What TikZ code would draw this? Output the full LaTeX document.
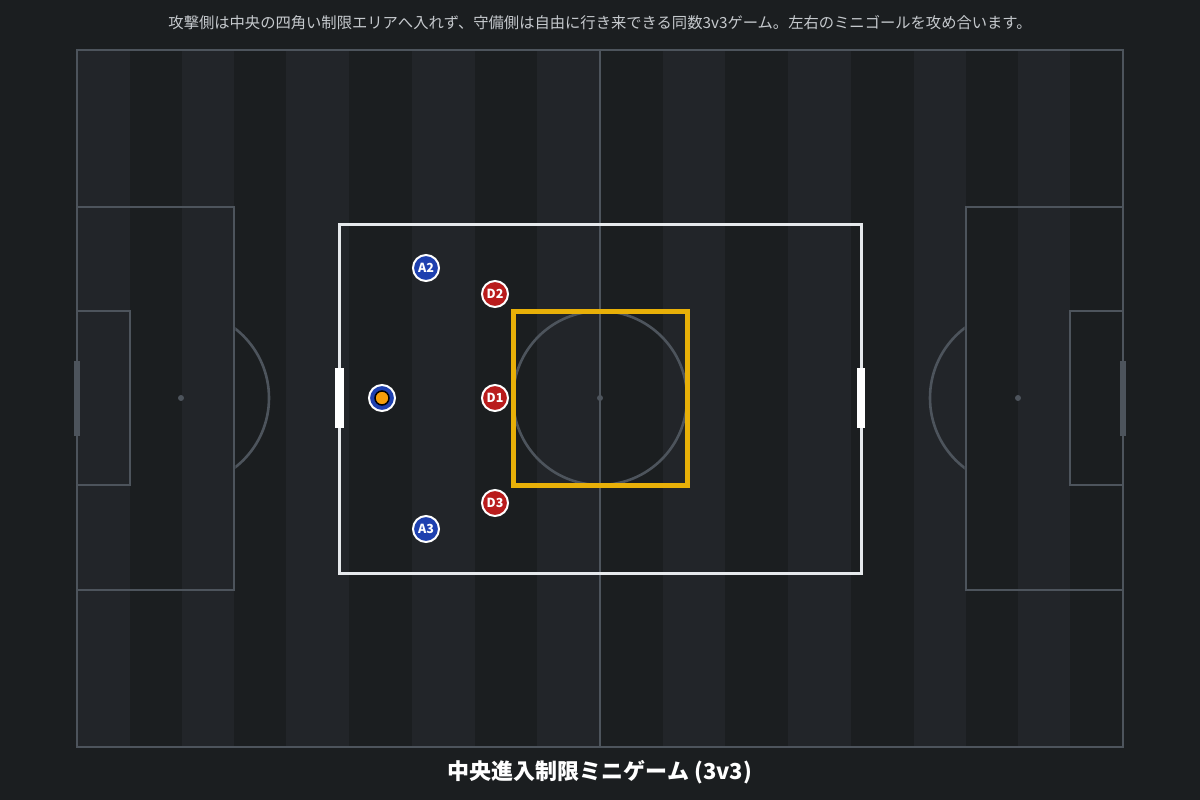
\documentclass[tikz,border=0pt]{standalone}
\usepackage{fontspec}
\newfontfamily\jpfont{Noto Sans CJK JP}
\definecolor{bg}{HTML}{1B1E20}
\definecolor{stripe}{HTML}{222529}
\definecolor{pline}{HTML}{4D545C}
\definecolor{zone}{HTML}{E6E9EC}
\definecolor{gold}{HTML}{E8B008}
\definecolor{teamA}{HTML}{1E40AF}
\definecolor{teamD}{HTML}{B91C1C}
\definecolor{ballc}{HTML}{F59E0B}
\definecolor{subtxt}{HTML}{C5C9CD}
\begin{document}
\begin{tikzpicture}[x=1pt,y=-1pt,
  pitchline/.style={draw=pline,line width=2.6pt},
  zoneline/.style={draw=zone,line width=3pt},
  goldline/.style={draw=gold,line width=5pt},
  minigoal/.style={fill=white},
  bigGoal/.style={fill=pline},
  player/.style={circle,draw=white,line width=2pt,minimum size=26pt,inner sep=0pt,text=white,font=\jpfont\bfseries\fontsize{12.5}{12.5}\selectfont},
  attacker/.style={player,fill=teamA},
  defender/.style={player,fill=teamD},
  ballstyle/.style={circle,draw=black,line width=1.5pt,fill=ballc,minimum size=14pt,inner sep=0pt}]
\useasboundingbox (0,0) rectangle (1200,800);
\fill[bg] (0,0) rectangle (1200,800);
% stripes
\foreach \a/\b in {77/130,182/234,286/349,412/475,537/600,663/725,788/851,914/966,1018/1070}
  \fill[stripe] (\a,50) rectangle (\b,747);
% pitch outline and lines
\draw[pitchline] (77,50) rectangle (1123,747);
\draw[pitchline] (600,50) -- (600,747);
\draw[pitchline] (600,398) circle[radius=87];
\fill[pline] (600,398) circle[radius=3];
% left side
\draw[pitchline] (77,207) rectangle (234,590);
\draw[pitchline] (77,311) rectangle (130,485);
\fill[pline] (181,398) circle[radius=3];
\begin{scope}
  \clip (235.3,100) rectangle (400,700);
  \draw[pitchline] (181,398) circle[radius=88];
\end{scope}
\fill[bigGoal] (74,361) rectangle (80,436);
% right side
\draw[pitchline] (1123,207) rectangle (966,590);
\draw[pitchline] (1123,311) rectangle (1070,485);
\fill[pline] (1018,398) circle[radius=3];
\begin{scope}
  \clip (800,100) rectangle (964.7,700);
  \draw[pitchline] (1018,398) circle[radius=88];
\end{scope}
\fill[bigGoal] (1120,361) rectangle (1126,436);
% 3v3 zone
\draw[zoneline] (339,224) rectangle (861,573);
\fill[minigoal] (335,368) rectangle (343.5,428);
\fill[minigoal] (856.5,368) rectangle (865,428);
% restricted central square
\draw[goldline] (513,311) rectangle (687,485);
% players
\node[attacker] (A2) at (426,268) {A2};
\node[attacker] (A3) at (426,529) {A3};
\node[attacker] (A1) at (382,398) {};
\node[ballstyle] (ball) at (A1) {};
\node[defender] (D2) at (495,294) {D2};
\node[defender] (D1) at (495,398) {D1};
\node[defender] (D3) at (495,503) {D3};
% texts
\node[text=subtxt,font=\jpfont\fontsize{15.3}{15.3}\selectfont] (caption) at (600,22.5) {攻撃側は中央の四角い制限エリアへ入れず、守備側は自由に行き来できる同数3v3ゲーム。左右のミニゴールを攻め合います。};
\node[text=white,font=\jpfont\bfseries\fontsize{22}{22}\selectfont] (title) at (600,772) {中央進入制限ミニゲーム (3v3)};
\end{tikzpicture}
\end{document}
